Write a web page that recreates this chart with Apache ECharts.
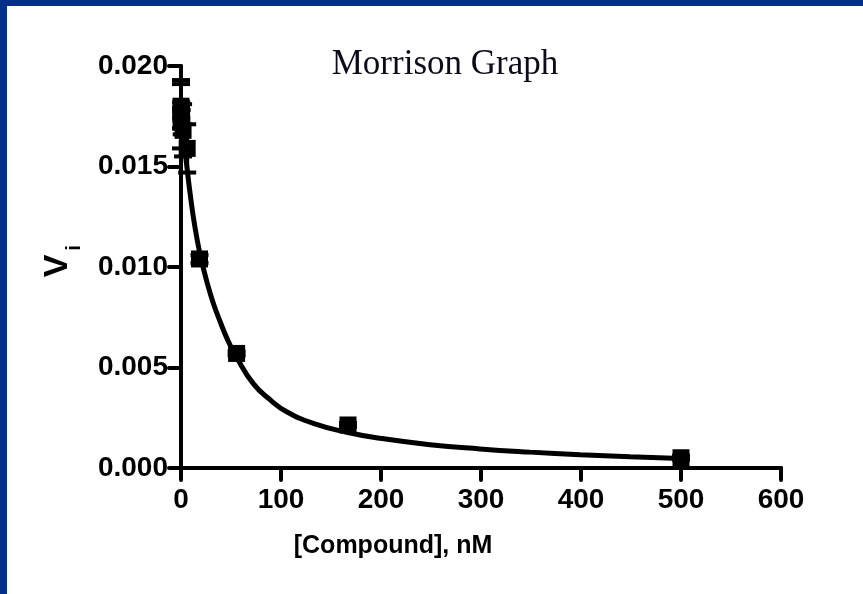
<!DOCTYPE html>
<html>
<head>
<meta charset="utf-8">
<script src="https://cdn.jsdelivr.net/npm/echarts@6/dist/echarts.min.js"></script>
<style>
html,body{margin:0;padding:0;background:#fff;}
#chart{width:863px;height:594px;}
</style>
</head>
<body>
<div id="chart"></div>
<script>
// ---- data ----
const concentrations = [0, 0.0254, 0.0762, 0.229, 0.686, 2.06, 6.17, 18.5, 55.6, 167, 500];
const velocities     = [0.0176, 0.0180, 0.0174, 0.0178, 0.0172, 0.0168, 0.0159, 0.0104, 0.0057, 0.00214, 0.00051];
const errors         = [0.0017, 0.0011, 0.0005, 0.0004, 0.0006, 0.0013, 0.0012, 0.0002, 0.0001, 0.0001, 0.0001];

const fitX = [0, 2, 4, 6.3, 9, 12.3, 16, 19.7, 25.7, 32.3, 39, 47.3, 55.7, 72.3, 89, 105.7, 132.3, 165.7, 199, 249, 299, 349, 399, 449, 500];
const fitY = [0.0177, 0.0167, 0.0158, 0.0148, 0.0137, 0.0125, 0.0114, 0.0105, 0.0093, 0.0082, 0.0073, 0.0063, 0.0055, 0.0042, 0.0034, 0.0028, 0.00222, 0.00178, 0.00148, 0.00116, 0.00095, 0.00079, 0.00066, 0.00056, 0.00047];

const xTicks = [0, 100, 200, 300, 400, 500, 600];
const yTicks = [0.000, 0.005, 0.010, 0.015, 0.020];

const titleText = 'Morrison Graph';
const xName = '[Compound], nM';

const sans = '"Liberation Sans", Arial, sans-serif';
const serif = '"Liberation Serif", "Times New Roman", serif';
const blue = '#00308A';

const chart = echarts.init(document.getElementById('chart'), null, {renderer: 'canvas'});

const points = concentrations.map((c, i) => [c, velocities[i]]);
const errPts = concentrations.map((c, i) => [c, velocities[i], errors[i]]);
const fitPts = fitX.map((x, i) => [x, fitY[i]]);

chart.setOption({
  backgroundColor: '#fff',
  animation: false,
  grid: {left: 181, right: 82, top: 66, bottom: 126, containLabel: false},
  xAxis: {
    type: 'value', min: xTicks[0], max: xTicks[xTicks.length - 1], interval: 100,
    axisLine: {show: true, onZero: false, lineStyle: {color: '#000', width: 4, cap: 'round'}},
    axisTick: {show: true, length: 12, lineStyle: {color: '#000', width: 4, cap: 'round'}},
    axisLabel: {color: '#000', fontFamily: sans, fontWeight: 'bold', fontSize: 28, margin: 18},
    splitLine: {show: false}
  },
  yAxis: {
    type: 'value', min: yTicks[0], max: yTicks[yTicks.length - 1], interval: 0.005,
    axisLine: {show: true, onZero: false, lineStyle: {color: '#000', width: 4, cap: 'round'}},
    axisTick: {show: true, length: 12, lineStyle: {color: '#000', width: 4, cap: 'round'}},
    axisLabel: {color: '#000', fontFamily: sans, fontWeight: 'bold', fontSize: 28, margin: 13,
      formatter: v => v.toFixed(3)},
    splitLine: {show: false}
  },
  graphic: [
    {type: 'rect', shape: {x: 0, y: 0, width: 863, height: 6}, style: {fill: blue}, z: 100},
    {type: 'rect', shape: {x: 0, y: 0, width: 7, height: 594}, style: {fill: blue}, z: 100},
    {type: 'text', x: 445, y: 65, style: {text: titleText, font: '35px ' + serif, fill: '#0b0b1c', align: 'center', verticalAlign: 'middle'}},
    {type: 'text', x: 393, y: 546, style: {text: xName, font: 'bold 25px ' + sans, fill: '#000', align: 'center', verticalAlign: 'middle'}},
    {type: 'text', x: 58, y: 266, rotation: Math.PI / 2, style: {text: 'V', font: 'bold 34px ' + sans, fill: '#000', align: 'center', verticalAlign: 'middle'}},
    {type: 'text', x: 74, y: 248, rotation: Math.PI / 2, style: {text: 'i', font: 'bold 20px ' + sans, fill: '#000', align: 'center', verticalAlign: 'middle'}}
  ],
  series: [
    {
      type: 'line', data: fitPts, showSymbol: false, smooth: 0.5,
      lineStyle: {color: '#000', width: 5}, z: 3
    },
    {
      type: 'custom', data: errPts, z: 4,
      renderItem: function (params, api) {
        const x = api.value(0), y = api.value(1), e = api.value(2);
        const hi = api.coord([x, y + e]);
        const lo = api.coord([x, y - e]);
        const half = 9;
        const st = {stroke: '#000', lineWidth: 4};
        return {type: 'group', children: [
          {type: 'line', shape: {x1: hi[0], y1: hi[1], x2: lo[0], y2: lo[1]}, style: st},
          {type: 'line', shape: {x1: hi[0] - half, y1: hi[1], x2: hi[0] + half, y2: hi[1]}, style: st},
          {type: 'line', shape: {x1: lo[0] - half, y1: lo[1], x2: lo[0] + half, y2: lo[1]}, style: st}
        ]};
      }
    },
    {
      type: 'scatter', data: points, symbol: 'rect', symbolSize: 17,
      itemStyle: {color: '#000', opacity: 1}, z: 5
    }
  ]
});
</script>
</body>
</html>
